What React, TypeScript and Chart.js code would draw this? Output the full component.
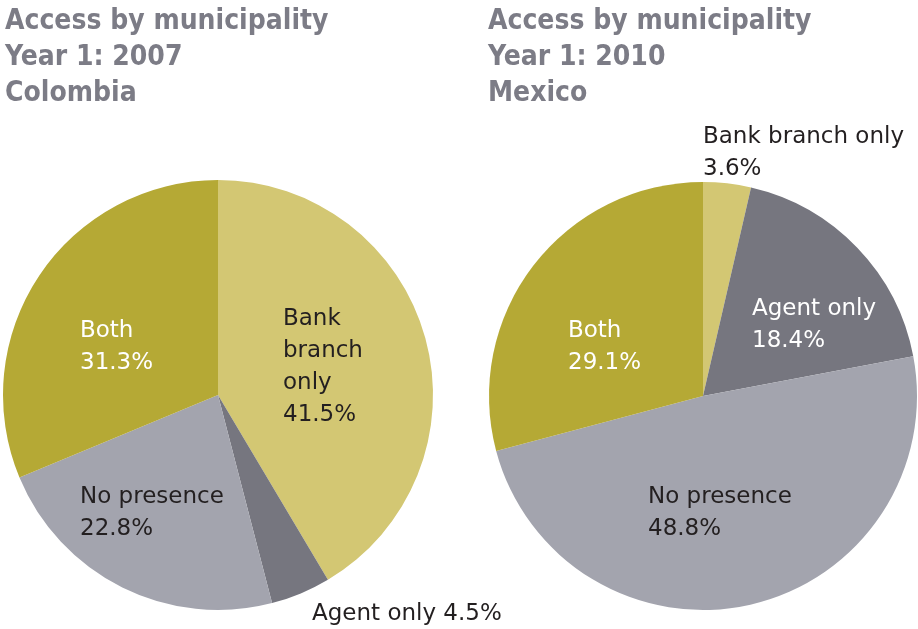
import React, { useEffect, useRef } from "react";
import { Chart, registerables } from "chart.js";

Chart.register(...registerables);

const categories = ["Bank branch only", "Agent only", "No presence", "Both"];
const colombiaValues = [41.5, 4.5, 22.8, 31.3];
const mexicoValues = [3.6, 18.4, 48.8, 29.1];
const colombiaTitle = ["Access by municipality", "Year 1: 2007", "Colombia"];
const mexicoTitle = ["Access by municipality", "Year 1: 2010", "Mexico"];
const sliceColors = ["#d3c773", "#76767f", "#a3a4ae", "#b5a935"];

type LabelSpec = { lines: string[]; dx: number; dy: number; color: string };

const colombiaLabels: LabelSpec[] = [
  { lines: ["Bank", "branch", "only", "41.5%"], dx: 65, dy: -70, color: "#231f20" },
  { lines: ["Agent only 4.5%"], dx: 94, dy: 225, color: "#231f20" },
  { lines: ["No presence", "22.8%"], dx: -138, dy: 108, color: "#231f20" },
  { lines: ["Both", "31.3%"], dx: -138, dy: -58, color: "#ffffff" },
];
const mexicoLabels: LabelSpec[] = [
  { lines: ["Bank branch only", "3.6%"], dx: 0, dy: -253, color: "#231f20" },
  { lines: ["Agent only", "18.4%"], dx: 49, dy: -81, color: "#ffffff" },
  { lines: ["No presence", "48.8%"], dx: -55, dy: 107, color: "#231f20" },
  { lines: ["Both", "29.1%"], dx: -135, dy: -59, color: "#ffffff" },
];

type PieProps = {
  values: number[];
  title: string[];
  titleX: number;
  labels: LabelSpec[];
  padding: { left: number; right: number; top: number; bottom: number };
  left: number;
  width: number;
};

function Pie({ values, title, titleX, labels, padding, left, width }: PieProps) {
  const ref = useRef<HTMLCanvasElement | null>(null);
  useEffect(() => {
    if (!ref.current) return;
    const textPlugin = {
      id: "pieText",
      afterDraw(chart: any) {
        const ctx = chart.ctx;
        ctx.save();
        ctx.textAlign = "left";
        ctx.textBaseline = "alphabetic";
        ctx.fillStyle = "#7c7c86";
        ctx.font = "bold 28px 'DejaVu Sans Condensed'";
        title.forEach((t, i) => ctx.fillText(t, titleX, 29 + i * 36));
        const arcs = chart.getDatasetMeta(0).data;
        const cx = arcs[0].x;
        const cy = arcs[0].y;
        ctx.font = "23px 'DejaVu Sans'";
        labels.forEach((l) => {
          ctx.fillStyle = l.color;
          l.lines.forEach((line, i) => ctx.fillText(line, cx + l.dx, cy + l.dy + i * 32));
        });
        ctx.restore();
      },
    };
    const chart = new Chart(ref.current, {
      type: "pie",
      data: {
        labels: categories,
        datasets: [
          {
            data: values,
            backgroundColor: sliceColors,
            borderWidth: 0,
          },
        ],
      },
      options: {
        responsive: false,
        animation: false,
        devicePixelRatio: 1,
        layout: { padding },
        plugins: {
          legend: { display: false },
          tooltip: { enabled: false },
          title: { display: false },
        },
      },
      plugins: [textPlugin],
    });
    return () => chart.destroy();
  }, []);
  return (
    <canvas
      ref={ref}
      width={width}
      height={629}
      style={{ position: "absolute", left, top: 0, width, height: 629 }}
    />
  );
}

export default function App() {
  return (
    <div
      style={{
        position: "fixed",
        left: 0,
        top: 0,
        width: 918,
        height: 629,
        overflow: "hidden",
        background: "#ffffff",
      }}
    >
      <Pie
        values={colombiaValues}
        title={colombiaTitle}
        titleX={5}
        labels={colombiaLabels}
        padding={{ left: 3, right: 87, top: 180, bottom: 19 }}
        left={0}
        width={520}
      />
      <Pie
        values={mexicoValues}
        title={mexicoTitle}
        titleX={29}
        labels={mexicoLabels}
        padding={{ left: 30, right: 1, top: 182, bottom: 19 }}
        left={459}
        width={459}
      />
    </div>
  );
}
